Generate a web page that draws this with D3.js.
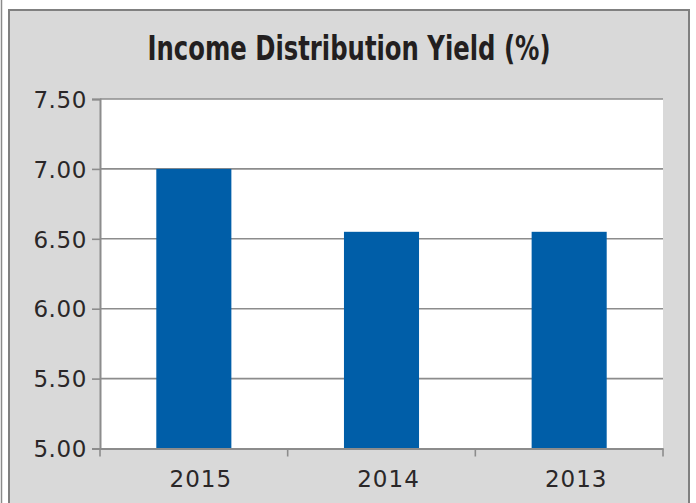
<!DOCTYPE html>
<html>
<head>
<meta charset="utf-8">
<script src="https://cdn.jsdelivr.net/npm/d3@7"></script>
<style>
html,body{margin:0;padding:0;background:#fff;}
svg{display:block;}
</style>
</head>
<body>
<svg id="chart" width="696" height="503"></svg>
<script>
const title = "Income Distribution Yield (%)";
const categories = ["2015", "2014", "2013"];
const values = [7.00, 6.55, 6.55];
const yTicks = [5.00, 5.50, 6.00, 6.50, 7.00, 7.50];
const yDomain = [5.00, 7.50];

const svg = d3.select("#chart");
const W = 696, H = 503;
const frame = {x: 9, y: 10, r: 689};
const plot = {left: 100, top: 99, right: 663, bottom: 448.5};

// outer decorations
svg.append("line").attr("x1", 1.5).attr("x2", 1.5).attr("y1", 0).attr("y2", H)
  .attr("stroke", "#8a8a8a").attr("stroke-width", 1.5);
svg.append("rect").attr("x", frame.x).attr("y", frame.y)
  .attr("width", frame.r - frame.x).attr("height", H + 10)
  .attr("fill", "#d9d9d9").attr("stroke", "#808080").attr("stroke-width", 2);

// title
svg.append("text")
  .attr("x", (frame.x + frame.r) / 2).attr("y", 60)
  .attr("text-anchor", "middle")
  .attr("font-family", "'Liberation Sans Narrow','DejaVu Sans Condensed','Liberation Sans',sans-serif")
  .attr("font-weight", "bold").attr("font-size", 34)
  .attr("fill", "#231f20")
  .attr("textLength", 403).attr("lengthAdjust", "spacingAndGlyphs")
  .text(title);

// plot area
svg.append("rect").attr("x", plot.left).attr("y", plot.top)
  .attr("width", plot.right - plot.left).attr("height", plot.bottom - plot.top)
  .attr("fill", "#ffffff");

const x = d3.scaleBand().domain(categories).range([plot.left, plot.right]).padding(0);
const y = d3.scaleLinear().domain(yDomain).range([plot.bottom, plot.top]);

// gridlines
svg.append("g").selectAll("line").data(yTicks.slice(1)).join("line")
  .attr("x1", plot.left).attr("x2", plot.right)
  .attr("y1", d => y(d)).attr("y2", d => y(d))
  .attr("stroke", "#8c8c8c").attr("stroke-width", 1.6);

// bars
const bw = x.bandwidth() * 0.4;
svg.append("g").selectAll("rect").data(categories).join("rect")
  .attr("x", (d) => x(d) + (x.bandwidth() - bw) / 2)
  .attr("y", (d, i) => y(values[i]))
  .attr("width", bw)
  .attr("height", (d, i) => y(yDomain[0]) - y(values[i]))
  .attr("fill", "#005ea8");

const labelFont = "'DejaVu Sans',sans-serif";

// y axis
const yAxis = d3.axisLeft(y).tickValues(yTicks).tickFormat(d3.format(".2f")).tickSize(8).tickPadding(5);
const gy = svg.append("g").attr("transform", `translate(${plot.left},0)`).call(yAxis);
gy.select(".domain").attr("stroke", "#8c8c8c").attr("stroke-width", 2);
gy.selectAll(".tick line").attr("stroke", "#8c8c8c").attr("stroke-width", 1.6);
gy.selectAll(".tick text")
  .attr("font-family", labelFont).attr("font-size", 23)
  .attr("fill", "#2a2728").attr("letter-spacing", 0.6).attr("dy", "0.36em");

// x axis
const xAxis = d3.axisBottom(x).tickSize(0).tickPadding(0);
const gx = svg.append("g").attr("transform", `translate(0,${plot.bottom})`).call(xAxis);
gx.select(".domain").attr("stroke", "#8c8c8c").attr("stroke-width", 2);
gx.selectAll(".tick text")
  .attr("font-family", labelFont).attr("font-size", 23)
  .attr("fill", "#2a2728").attr("letter-spacing", 1)
  .attr("dx", 7).attr("y", 38).attr("dy", 0);
// category boundary ticks
const bounds = categories.map(c => x(c)).concat([x.range()[1]]);
gx.append("g").selectAll("line").data(bounds).join("line")
  .attr("x1", d => d).attr("x2", d => d)
  .attr("y1", 0).attr("y2", 8)
  .attr("stroke", "#8c8c8c").attr("stroke-width", 1.6);
</script>
</body>
</html>
